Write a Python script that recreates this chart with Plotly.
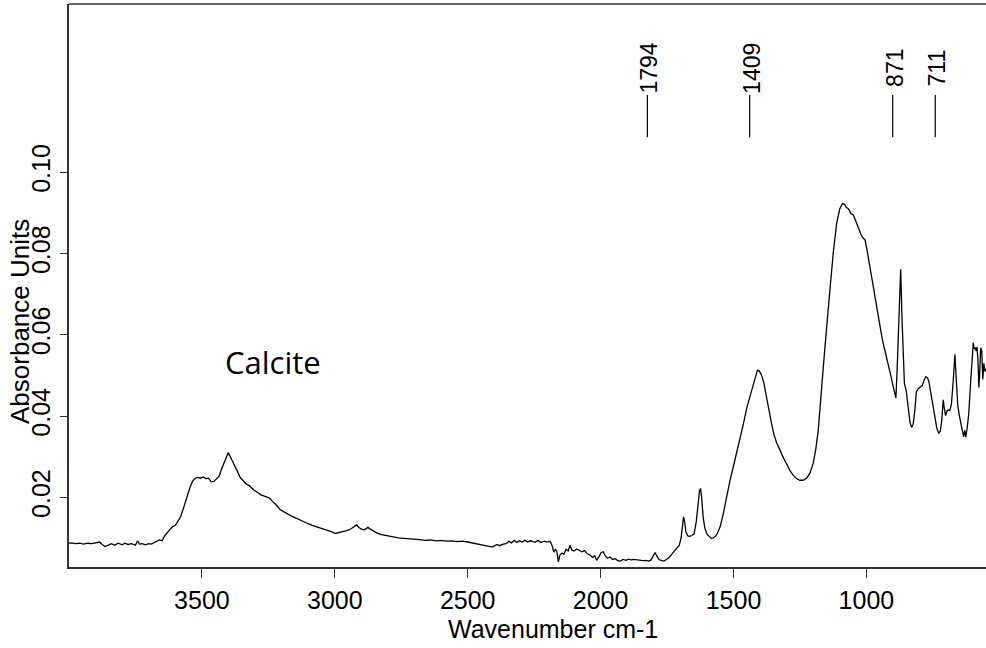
import plotly.graph_objects as go

# ---------------- data ----------------
wavenumber = [
    4000, 3990, 3975, 3960, 3945, 3930, 3915, 3900, 3885, 3875, 3865, 3850, 3840, 3828, 3815, 3800,
    3790, 3778, 3765, 3750, 3742, 3735, 3725, 3712, 3700, 3690, 3680, 3670, 3660, 3650, 3640, 3630,
    3620, 3610, 3600, 3590, 3580, 3570, 3557, 3545, 3535, 3525, 3515, 3505, 3495, 3485, 3475, 3465,
    3455, 3445, 3435, 3428, 3418, 3408, 3401, 3393, 3385, 3375, 3365, 3355, 3345, 3335, 3320, 3305,
    3290, 3278, 3265, 3255, 3245, 3235, 3220, 3206, 3190, 3175, 3160, 3145, 3130, 3115, 3100, 3085,
    3070, 3055, 3040, 3025, 3010, 2999, 2985, 2970, 2955, 2940, 2928, 2918, 2908, 2898, 2888, 2875,
    2865, 2855, 2840, 2825, 2810, 2795, 2780, 2760, 2740, 2720, 2700, 2680, 2660, 2640, 2620, 2600,
    2580, 2560, 2540, 2520, 2500, 2480, 2466, 2450, 2435, 2420, 2405, 2390, 2380, 2366, 2355, 2345,
    2335, 2325, 2315, 2305, 2295, 2285, 2275, 2265, 2255, 2245, 2235, 2225, 2212, 2200, 2190, 2182,
    2176, 2170, 2165, 2159, 2153, 2145, 2138, 2130, 2122, 2115, 2108, 2100, 2090, 2080, 2070, 2060,
    2050, 2040, 2030, 2022, 2015, 2005, 1998, 1990, 1982, 1974, 1965, 1955, 1945, 1935, 1927, 1915,
    1905, 1895, 1885, 1875, 1865, 1850, 1840, 1830, 1820, 1810, 1800, 1795, 1788, 1780, 1770, 1762,
    1752, 1742, 1732, 1722, 1712, 1704, 1697, 1692, 1688, 1684, 1679, 1672, 1665, 1657, 1648, 1640,
    1634, 1628, 1624, 1620, 1614, 1608, 1600, 1592, 1584, 1576, 1568, 1560, 1550, 1540, 1526, 1512,
    1500, 1488, 1476, 1463, 1450, 1438, 1428, 1418, 1410, 1402, 1394, 1386, 1378, 1368, 1358, 1348,
    1338, 1325, 1312, 1300, 1287, 1275, 1262, 1250, 1238, 1225, 1212, 1200, 1190, 1181, 1172, 1162,
    1150, 1137, 1125, 1112, 1100, 1090, 1082, 1075, 1068, 1058, 1049, 1040, 1030, 1020, 1012, 1005,
    998, 990, 980, 970, 960, 950, 940, 930, 920, 910, 900, 893, 889, 884, 878, 871,
    866, 861, 857, 850, 843, 836, 830, 824, 818, 812, 805, 798, 790, 782, 776, 770,
    765, 758, 750, 742, 735, 728, 722, 716, 711, 707, 702, 697, 692, 686, 680, 673,
    667, 662, 656, 650, 644, 639, 634, 630, 626, 621, 615, 608, 602, 598, 594, 590,
    587, 584, 580, 577, 574, 570, 566, 562, 558, 554, 550,
]
absorbance = [
    0.0087, 0.0088, 0.0086, 0.0087, 0.0085, 0.0087, 0.0086, 0.0088, 0.0090, 0.0084, 0.0079, 0.0083, 0.0086, 0.0082, 0.0087, 0.0083,
    0.0087, 0.0084, 0.0086, 0.0082, 0.0093, 0.0085, 0.0086, 0.0083, 0.0086, 0.0085, 0.0088, 0.0092, 0.0095, 0.0093, 0.0105, 0.0113,
    0.0122, 0.0128, 0.0131, 0.0142, 0.0152, 0.0172, 0.0200, 0.0224, 0.0240, 0.0247, 0.0249, 0.0247, 0.0250, 0.0246, 0.0247, 0.0238,
    0.0239, 0.0245, 0.0252, 0.0266, 0.0284, 0.0300, 0.0310, 0.0300, 0.0290, 0.0278, 0.0262, 0.0248, 0.0240, 0.0234, 0.0228, 0.0218,
    0.0212, 0.0206, 0.0203, 0.0200, 0.0198, 0.0190, 0.0181, 0.0170, 0.0163, 0.0158, 0.0153, 0.0148, 0.0143, 0.0139, 0.0135, 0.0131,
    0.0128, 0.0124, 0.0121, 0.0118, 0.0115, 0.0111, 0.0113, 0.0115, 0.0118, 0.0122, 0.0128, 0.0132, 0.0125, 0.0121, 0.0120, 0.0126,
    0.0121, 0.0117, 0.0112, 0.0108, 0.0106, 0.0104, 0.0102, 0.0100, 0.0099, 0.0098, 0.0098, 0.0096, 0.0094, 0.0095, 0.0093, 0.0094,
    0.0092, 0.0093, 0.0091, 0.0092, 0.0090, 0.0087, 0.0085, 0.0083, 0.0081, 0.0079, 0.0078, 0.0084, 0.0081, 0.0085, 0.0086, 0.0092,
    0.0088, 0.0094, 0.0089, 0.0093, 0.0090, 0.0094, 0.0090, 0.0093, 0.0091, 0.0090, 0.0094, 0.0089, 0.0092, 0.0090, 0.0092, 0.0080,
    0.0065, 0.0072, 0.0068, 0.0041, 0.0058, 0.0063, 0.0060, 0.0072, 0.0068, 0.0082, 0.0070, 0.0068, 0.0073, 0.0070, 0.0066, 0.0069,
    0.0061, 0.0058, 0.0052, 0.0056, 0.0045, 0.0055, 0.0064, 0.0066, 0.0055, 0.0050, 0.0053, 0.0047, 0.0049, 0.0044, 0.0043, 0.0047,
    0.0045, 0.0048, 0.0046, 0.0047, 0.0046, 0.0045, 0.0044, 0.0045, 0.0043, 0.0046, 0.0058, 0.0064, 0.0055, 0.0047, 0.0044, 0.0043,
    0.0047, 0.0052, 0.0060, 0.0068, 0.0075, 0.0082, 0.0100, 0.0125, 0.0152, 0.0140, 0.0115, 0.0105, 0.0104, 0.0106, 0.0110, 0.0140,
    0.0180, 0.0215, 0.0222, 0.0200, 0.0150, 0.0125, 0.0110, 0.0103, 0.0099, 0.0100, 0.0104, 0.0112, 0.0128, 0.0155, 0.0202, 0.0245,
    0.0277, 0.0310, 0.0340, 0.0380, 0.0420, 0.0448, 0.0465, 0.0494, 0.0513, 0.0510, 0.0500, 0.0482, 0.0458, 0.0420, 0.0385, 0.0355,
    0.0335, 0.0315, 0.0297, 0.0282, 0.0265, 0.0254, 0.0246, 0.0242, 0.0242, 0.0247, 0.0260, 0.0284, 0.0320, 0.0366, 0.0430, 0.0521,
    0.0615, 0.0710, 0.0800, 0.0874, 0.0910, 0.0923, 0.0921, 0.0913, 0.0910, 0.0898, 0.0895, 0.0880, 0.0862, 0.0846, 0.0838, 0.0833,
    0.0810, 0.0778, 0.0745, 0.0705, 0.0660, 0.0622, 0.0588, 0.0560, 0.0535, 0.0505, 0.0475, 0.0452, 0.0444, 0.0520, 0.0660, 0.0761,
    0.0640, 0.0520, 0.0480, 0.0462, 0.0420, 0.0385, 0.0372, 0.0380, 0.0412, 0.0460, 0.0467, 0.0470, 0.0475, 0.0490, 0.0497, 0.0494,
    0.0485, 0.0458, 0.0425, 0.0395, 0.0370, 0.0358, 0.0362, 0.0392, 0.0440, 0.0420, 0.0401, 0.0412, 0.0415, 0.0414, 0.0430, 0.0490,
    0.0552, 0.0490, 0.0425, 0.0400, 0.0380, 0.0360, 0.0349, 0.0365, 0.0348, 0.0370, 0.0405, 0.0480, 0.0550, 0.0580, 0.0565, 0.0568,
    0.0560, 0.0570, 0.0536, 0.0470, 0.0500, 0.0568, 0.0560, 0.0490, 0.0530, 0.0510, 0.0515,
]

peak_labels = [1794, 1409, 871, 711]
x_ticks = [3500, 3000, 2500, 2000, 1500, 1000]
y_ticks = [0.02, 0.04, 0.06, 0.08, 0.10]
y_tick_text = ["0.02", "0.04", "0.06", "0.08", "0.10"]
x_title = "Wavenumber cm-1"
y_title = "Absorbance Units"
sample_name = "Calcite"

# ---------------- figure ----------------
FONT = "Liberation Sans, Arial, sans-serif"
LABEL_OFFSET = 30          # marker lines sit slightly left of the peak, as in the original
X_RANGE = [4000, 550]
Y_RANGE = [0.00285, 0.1414]

W, H = 986, 648
ML, MR, MT, MB = 69, 0, 4, 81
pw, ph = W - ML - MR, H - MT - MB

fig = go.Figure()
fig.add_trace(go.Scatter(
    x=wavenumber, y=absorbance, mode="lines",
    line=dict(color="black", width=1.3), showlegend=False, hoverinfo="x+y",
))

shapes = []
annotations = []
for p in peak_labels:
    xp = p + LABEL_OFFSET
    shapes.append(dict(type="line", xref="x", yref="y", x0=xp, x1=xp, y0=0.1086, y1=0.1190,
                       line=dict(color="black", width=1.2)))
    annotations.append(dict(x=xp, y=0.1256, xref="x", yref="y", text=str(p), showarrow=False,
                            textangle=-90, xanchor="center", yanchor="middle", xshift=2,
                            font=dict(family=FONT, size=23, color="black")))

# top frame line
shapes.append(dict(type="line", xref="paper", yref="paper", x0=0, x1=1, y0=1, y1=1,
                   line=dict(color="#333333", width=1.6)))

annotations.append(dict(x=3232, y=0.0533, xref="x", yref="y", text=sample_name, showarrow=False,
                        xanchor="center", yanchor="middle",
                        font=dict(family="Open Sans, Noto Sans, sans-serif", size=31, color="black")))
# axis titles, placed from their pixel centres
annotations.append(dict(x=(553 - ML) / pw, y=(H - MB - 629) / ph, xref="paper", yref="paper",
                        text=x_title, showarrow=False, xanchor="center", yanchor="middle",
                        font=dict(family=FONT, size=25, color="black")))
annotations.append(dict(x=(20 - ML) / pw, y=(H - MB - 322) / ph, xref="paper", yref="paper",
                        text=y_title, showarrow=False, textangle=-90,
                        xanchor="center", yanchor="middle",
                        font=dict(family=FONT, size=26, color="black")))

fig.update_layout(
    width=W, height=H, autosize=False,
    margin=dict(l=ML, r=MR, t=MT, b=MB, pad=0, autoexpand=False),
    paper_bgcolor="white", plot_bgcolor="white",
    shapes=shapes, annotations=annotations,
    font=dict(family=FONT, size=25, color="black"),
    xaxis=dict(range=X_RANGE, tickvals=x_ticks, ticktext=[str(t) for t in x_ticks],
               ticks="outside", ticklen=9, tickwidth=1.2, tickcolor="#333333",
               ticklabelstandoff=1,
               showline=True, linecolor="#333333", linewidth=1.6, automargin=False,
               showgrid=False, zeroline=False, tickfont=dict(family=FONT, size=25)),
    yaxis=dict(range=Y_RANGE, tickvals=y_ticks, ticktext=y_tick_text,
               ticks="outside", ticklen=7, tickwidth=1.2, tickcolor="#333333",
               showline=True, linecolor="#333333", linewidth=1.6, tickangle=-90, automargin=False,
               showgrid=False, zeroline=False, tickfont=dict(family=FONT, size=25)),
)

html = fig.to_html(full_html=True, include_plotlyjs=True, config={"displayModeBar": False})
html = html.replace("<head>", "<head><style>html,body{margin:0;padding:0;overflow:hidden;}</style>", 1)
with open("out.html", "w", encoding="utf-8") as f:
    f.write(html)
